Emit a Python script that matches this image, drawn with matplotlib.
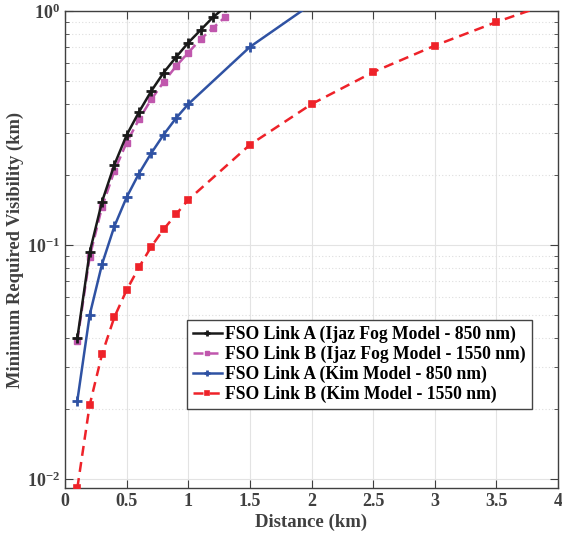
import matplotlib.pyplot as plt
from matplotlib.ticker import LogLocator, NullFormatter

plt.rcParams['font.family'] = ['Liberation Serif', 'DejaVu Serif']
plt.rcParams['font.weight'] = 'bold'

# distances (km) and minimum visibility (km)
d_ijaz_a = [0.1, 0.2, 0.3, 0.4, 0.5, 0.6, 0.7, 0.8, 0.9, 1.0, 1.1, 1.2, 1.3]
v_ijaz_a = [0.040, 0.093, 0.153, 0.220, 0.295, 0.370, 0.455, 0.545, 0.634, 0.732, 0.829, 0.94, 1.04]

d_ijaz_b = [0.1, 0.2, 0.3, 0.4, 0.5, 0.6, 0.7, 0.8, 0.9, 1.0, 1.1, 1.2, 1.3]
v_ijaz_b = [0.039, 0.089, 0.145, 0.207, 0.274, 0.344, 0.419, 0.497, 0.580, 0.664, 0.757, 0.846, 0.943]

d_kim_a = [0.1, 0.2, 0.3, 0.4, 0.5, 0.6, 0.7, 0.8, 0.9, 1.0, 1.5, 2.0]
v_kim_a = [0.0216, 0.0502, 0.0827, 0.120, 0.160, 0.202, 0.247, 0.296, 0.348, 0.400, 0.702, 1.07]

d_kim_b = [0.1, 0.2, 0.3, 0.4, 0.5, 0.6, 0.7, 0.8, 0.9, 1.0, 1.5, 2.0, 2.5, 3.0, 3.5, 4.0]
v_kim_b = [0.00915, 0.0207, 0.0341, 0.0491, 0.0642, 0.0803, 0.0984, 0.1167, 0.135, 0.156,
           0.268, 0.400, 0.548, 0.711, 0.897, 1.107]

labels = ["FSO Link A (Ijaz Fog Model - 850 nm)",
          "FSO Link B (Ijaz Fog Model - 1550 nm)",
          "FSO Link A (Kim Model - 850 nm)",
          "FSO Link B (Kim Model - 1550 nm)"]

fig = plt.figure(figsize=(5.62, 5.47), dpi=100)
ax = fig.add_axes([0.1157, 0.1079, 0.8772, 0.872])

ax.plot(d_ijaz_a, v_ijaz_a, color="#1a1a1a", linestyle="-", linewidth=1.8,
        marker="+", markersize=7, markeredgewidth=2, label=labels[0], zorder=4)
ax.plot(d_ijaz_b, v_ijaz_b, color="#c057ad", linestyle=(0, (4, 2)), linewidth=1.8,
        marker="s", markersize=5, label=labels[1], zorder=3)
ax.plot(d_kim_a, v_kim_a, color="#2f52a3", linestyle="-", linewidth=1.8,
        marker="+", markersize=7, markeredgewidth=2, label=labels[2], zorder=3)
ax.plot(d_kim_b, v_kim_b, color="#ee2229", linestyle=(0, (4, 2.5)), linewidth=1.8,
        marker="s", markersize=4.5, markeredgewidth=1.2, label=labels[3], zorder=3)

ax.set_yscale("log")
ax.set_xlim(0, 4)
ax.set_ylim(0.00915, 1)
ax.set_xticks([0, 0.5, 1, 1.5, 2, 2.5, 3, 3.5, 4])
ax.set_xticklabels(["0", "0.5", "1", "1.5", "2", "2.5", "3", "3.5", "4"])
ax.yaxis.set_major_locator(LogLocator(base=10, numticks=10))
ax.yaxis.set_minor_locator(LogLocator(base=10, subs=range(2, 10), numticks=10))
ax.yaxis.set_minor_formatter(NullFormatter())

ax.grid(True, which="major", axis="both", color="#e3e3e3", linewidth=0.8, linestyle="-")
ax.grid(True, which="minor", axis="y", color="#dedede", linewidth=0.8, linestyle=(0, (1, 2)))
ax.set_axisbelow(True)

gray = "#404040"
for s in ax.spines.values():
    s.set_color(gray)
    s.set_linewidth(1.0)
ax.tick_params(which="both", direction="in", top=True, right=True, colors=gray,
               labelsize=13, labelcolor=gray)
ax.tick_params(which="major", length=6)
ax.tick_params(which="minor", length=3)
for t in ax.get_xticklabels() + ax.get_yticklabels():
    t.set_fontweight("bold")

ax.set_xlabel("Distance (km)", fontsize=13.5, fontweight="bold", color=gray, labelpad=3)
ax.set_ylabel("Minimum Required Visibility (km)", fontsize=13.3, fontweight="bold", color=gray, labelpad=2)

leg = ax.legend(loc="lower right", bbox_to_anchor=(0.965, 0.147), fontsize=12.7,
                handlelength=1.6, handletextpad=0.2, borderpad=0.35, labelspacing=0.15,
                markerscale=0.7, fancybox=False, framealpha=1, edgecolor="#444444")
leg.get_frame().set_linewidth(1.0)
for t in leg.get_texts():
    t.set_fontweight("bold")

plt.savefig("out.png", dpi=100)
